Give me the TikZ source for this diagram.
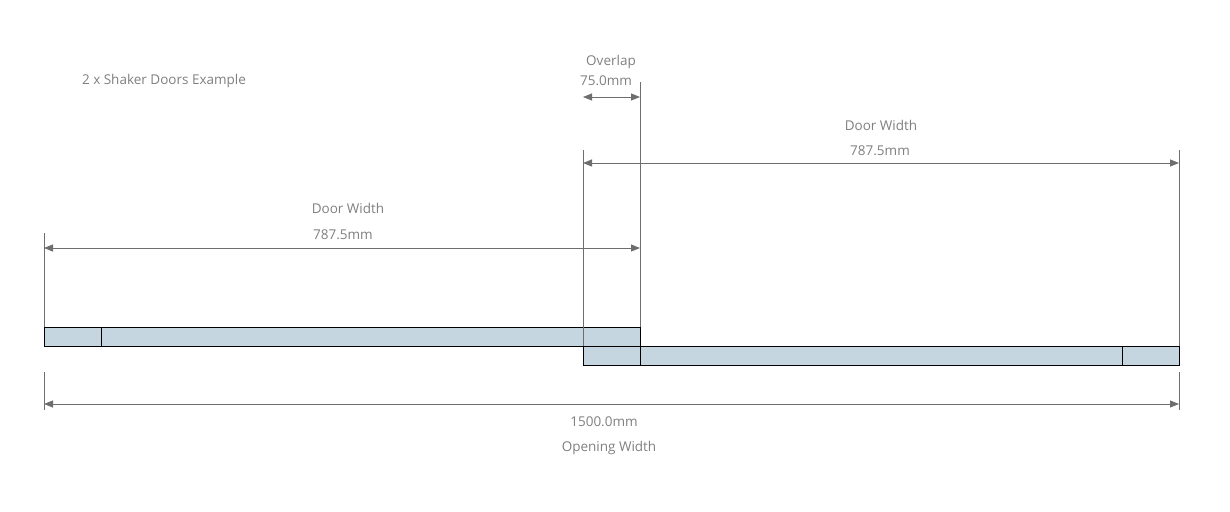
\documentclass[tikz,border=0pt]{standalone}
\usepackage{fontspec}
\setmainfont{Open Sans}
\usetikzlibrary{arrows.meta}
\definecolor{doorfill}{RGB}{197,214,225}
\definecolor{dimgray}{RGB}{110,110,110}

\begin{document}
\begin{tikzpicture}[x=1pt,y=-1pt,
  door/.style={draw=black, fill=doorfill, line width=0.9pt},
  extline/.style={draw=dimgray, line width=0.8pt},
  dimline/.style={draw=dimgray, line width=0.8pt, {Triangle[length=9pt,width=7pt]}-{Triangle[length=9pt,width=7pt]}},
  dimtext/.style={text=gray, font=\fontsize{13.5}{16}\selectfont, inner sep=0pt}]
\useasboundingbox (0,0) rectangle (1230,511);

% doors
\draw[door] (44,327) rectangle (640,346);
\draw[door] (583,346) rectangle (1179,365);
\draw[black, line width=0.9pt] (101,327) -- (101,346);
\draw[black, line width=0.9pt] (640,346) -- (640,365);
\draw[black, line width=0.9pt] (1122,346) -- (1122,365);

% extension lines
\coordinate (l1) at (44,233);  \coordinate (l2) at (44,327);
\coordinate (l3) at (44,372);  \coordinate (l4) at (44,410);
\coordinate (a1) at (583,150); \coordinate (a2) at (583,346);
\coordinate (b1) at (640,82);  \coordinate (b2) at (640,327);
\coordinate (r1) at (1179,150); \coordinate (r2) at (1179,346);
\coordinate (r3) at (1179,372); \coordinate (r4) at (1179,410);
\draw[extline] (l1) -- (l2);
\draw[extline] (l3) -- (l4);
\draw[extline] (a1) -- (a2);
\draw[extline] (b1) -- (b2);
\draw[extline] (r1) -- (r2);
\draw[extline] (r3) -- (r4);

% dimensions
\coordinate (ovA) at (583,97);  \coordinate (ovB) at (640,97);
\coordinate (rdA) at (583,163); \coordinate (rdB) at (1179,163);
\coordinate (ldA) at (44,248);  \coordinate (ldB) at (640,248);
\coordinate (opA) at (44,404);  \coordinate (opB) at (1179,404);
\draw[dimline] (ovA) -- (ovB);
\draw[dimline] (rdA) -- (rdB);
\draw[dimline] (ldA) -- (ldB);
\draw[dimline] (opA) -- (opB);

% labels
\node[dimtext] (title) at (164,81) {2 x Shaker Doors Example};
\node[dimtext] (ovname) at (611,62) {Overlap};
\node[dimtext] (ovval) at (606,81) {75.0mm};
\node[dimtext] (rdname) at (881,125) {Door Width};
\node[dimtext] (rdval) at (880,151) {787.5mm};
\node[dimtext] (ldname) at (348,208) {Door Width};
\node[dimtext] (ldval) at (343,235) {787.5mm};
\node[dimtext] (opval) at (604,422) {1500.0mm};
\node[dimtext] (opname) at (609,448) {Opening Width};
\end{tikzpicture}
\end{document}
